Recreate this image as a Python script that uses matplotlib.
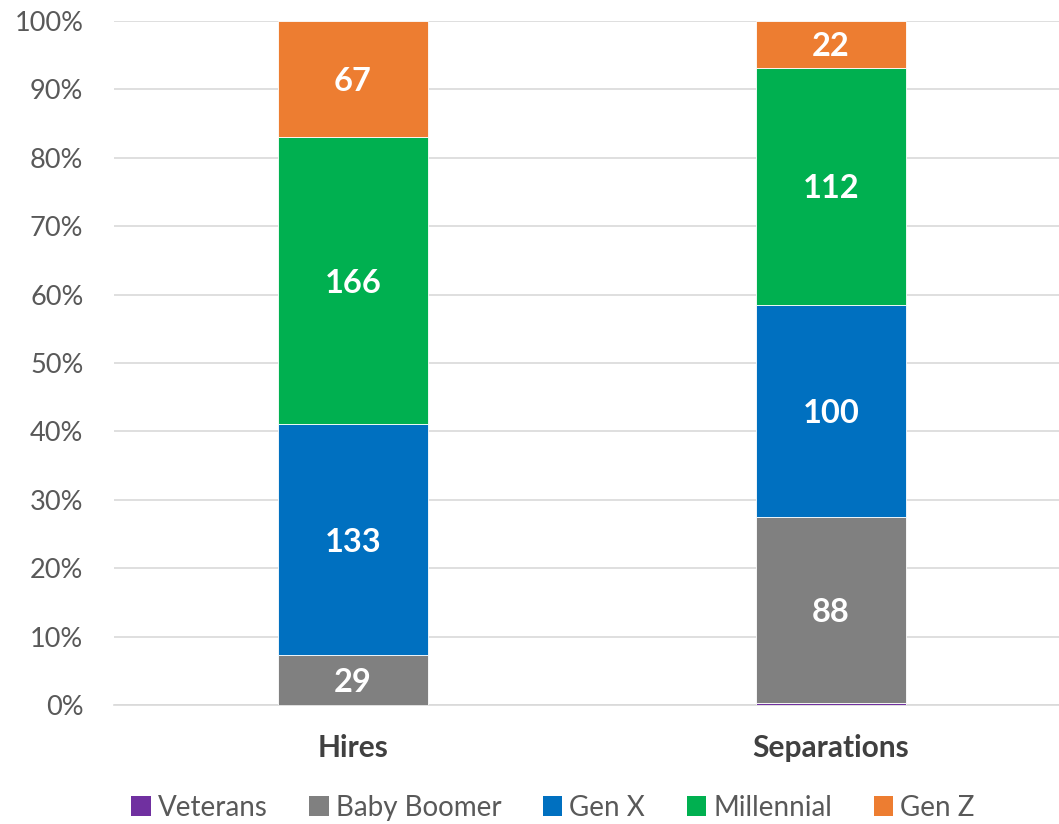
import matplotlib
matplotlib.use("Agg")
import matplotlib.pyplot as plt
from matplotlib.ticker import PercentFormatter
from matplotlib.patches import Patch

plt.rcParams['font.family'] = ['Lato', 'DejaVu Sans']

categories = ["Hires", "Separations"]
series_names = ["Veterans", "Baby Boomer", "Gen X", "Millennial", "Gen Z"]
series_values = {
    "Veterans": [0, 1],
    "Baby Boomer": [29, 88],
    "Gen X": [133, 100],
    "Millennial": [166, 112],
    "Gen Z": [67, 22],
}
colors = {
    "Veterans": "#7030A0",
    "Baby Boomer": "#808080",
    "Gen X": "#0070C0",
    "Millennial": "#00B050",
    "Gen Z": "#ED7D31",
}
y_ticks = [0, 10, 20, 30, 40, 50, 60, 70, 80, 90, 100]

fig = plt.figure(figsize=(10.59, 8.24), dpi=100)
ax = fig.add_axes([0.1076, 0.1444, 0.9027, 0.8301])

totals = [sum(series_values[s][i] for s in series_names) for i in range(len(categories))]
x = list(range(len(categories)))
bottoms = [0.0] * len(categories)
width = 0.314

for s in series_names:
    vals = series_values[s]
    shares = [v / t * 100 for v, t in zip(vals, totals)]
    ax.bar(x, shares, width, bottom=bottoms, color=colors[s],
           edgecolor="white", linewidth=0.6, zorder=3)
    for i, (v, sh) in enumerate(zip(vals, shares)):
        if v >= 5:
            ax.text(x[i], bottoms[i] + sh / 2, str(v), ha="center",
                    va="center_baseline", color="white", fontsize=23.5,
                    fontweight="bold", zorder=4)
    bottoms = [b + sh for b, sh in zip(bottoms, shares)]

ax.set_xlim(-0.5, 1.5)
ax.set_ylim(0, 100)
ax.set_yticks(y_ticks)
ax.yaxis.set_major_formatter(PercentFormatter(decimals=0))
ax.set_xticks(x)
ax.set_xticklabels(categories, fontsize=21.5, fontweight="bold", color="#404040")
ax.tick_params(axis="x", length=0, pad=21)
ax.tick_params(axis="y", length=0, pad=22, labelsize=19.5, labelcolor="#595959")
ax.grid(axis="y", color="#D9D9D9", linewidth=1.2, zorder=0)
for sp in ["top", "right", "left"]:
    ax.spines[sp].set_visible(False)
ax.spines["bottom"].set_color("#D9D9D9")
ax.spines["bottom"].set_linewidth(1.2)

handles = [Patch(facecolor=colors[s], edgecolor="none", label=s) for s in series_names]
fig.legend(handles=handles, loc="center", bbox_to_anchor=(0.522, 0.020), ncol=5,
           frameon=False, fontsize=20, labelcolor="#595959",
           handlelength=0.7, handleheight=0.7, handletextpad=0.25, columnspacing=1.5)

fig.savefig("out.png", dpi=100)
